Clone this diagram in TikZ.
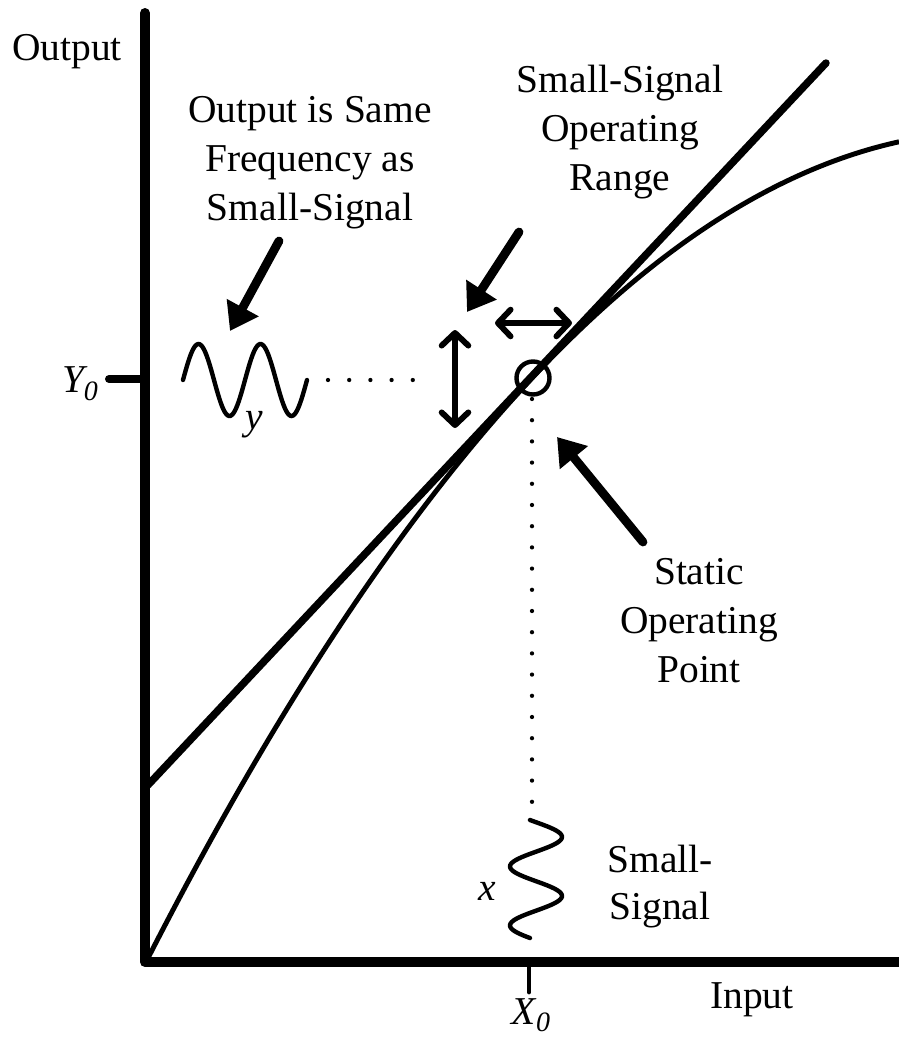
\documentclass[tikz,border=0pt]{standalone}
\usepackage{fontspec}
\setmainfont{Liberation Serif}
\usetikzlibrary{arrows.meta}
\begin{document}
\begin{tikzpicture}[x=0.75pt,y=-0.75pt,
  axis/.style={line width=7.5pt, line cap=round, line join=round},
  tangent/.style={line width=5.6pt, line cap=round},
  curve/.style={line width=3.7pt},
  wave/.style={line width=3.3pt, line cap=round},
  dots/.style={line width=3.2pt, line cap=round, dash pattern=on 0pt off 15.9pt},
  pointer/.style={line width=6.6pt, line cap=round, -{Triangle[length=20pt,width=26pt]}},
  rangearrow/.style={line width=4.4pt, line cap=round, {Straight Barb[length=9.5pt,width=20pt,round]}-{Straight Barb[length=9.5pt,width=20pt,round]}},
  lbl/.style={font=\fontsize{29.6}{36.75}\selectfont, align=center, inner sep=0pt, anchor=base},
  opcircle/.style={draw, circle, line width=3.3pt, minimum size=24.75pt, inner sep=0pt},
]
\useasboundingbox (0,0) rectangle (899,1040);

% axes
\coordinate (top) at (145,13);
\coordinate (orig) at (145,962);
\coordinate (right) at (899,962);
\draw[axis] (top) -- (orig) -- (right);

% ticks
\coordinate (ytick) at (109,379);
\coordinate (ytickb) at (145,379);
\draw[line width=6pt, line cap=round] (ytick) -- (ytickb);
\coordinate (xtick) at (529,962);
\coordinate (xtickb) at (529,992);
\draw[line width=3.6pt, line cap=round] (xtick) -- (xtickb);

% tangent line
\coordinate (tanA) at (148,785);
\coordinate (tanB) at (826,63);
\draw[tangent] (tanA) -- (tanB);

% transfer curve
\draw[curve] plot[domain=148:899, samples=120] (\x, {377 - 1.065*(\x-533) + 11.54*((\x-533)/100)^2});

% operating point
\node[opcircle] (op) at (533,378) {};

% dotted lines
\coordinate (hdA) at (328,380);
\coordinate (hdB) at (414,380);
\draw[dots] (hdA) -- (hdB);
\coordinate (vdA) at (532,399);
\coordinate (vdB) at (532,804);
\draw[dots] (vdA) -- (vdB);

% waves
\draw[wave] plot[domain=0:720, samples=90, variable=\t] ({183 + 0.172222*\t}, {380 - 36*sin(\t)});
\draw[wave] plot[domain=-13.4:706.6, samples=90, variable=\t] ({536 + 26*sin(\t)}, {820 + 0.163889*(\t+13.4)});

% range arrows
\coordinate (hrA) at (495,323);
\coordinate (hrB) at (572,323);
\draw[rangearrow] (hrA) -- (hrB);
\coordinate (vrA) at (455,330);
\coordinate (vrB) at (455,428);
\draw[rangearrow] (vrA) -- (vrB);

% pointer arrows
\coordinate (p1a) at (279,241);
\coordinate (p1b) at (230,331);
\draw[pointer] (p1a) -- (p1b);
\coordinate (p2a) at (519,232);
\coordinate (p2b) at (467,312);
\draw[pointer] (p2a) -- (p2b);
\coordinate (p3a) at (643,542);
\coordinate (p3b) at (557,437);
\draw[pointer] (p3a) -- (p3b);

% labels
\node[lbl] (outlbl) at (67,60) {Output};
\node[lbl] (inlbl) at (752,1008) {Input};
\node[lbl] (y0) at (80,392) {\itshape Y\raisebox{-0.22em}{\fontsize{21}{21}\selectfont 0}};
\node[lbl] (x0) at (531,1024) {\itshape X\raisebox{-0.2em}{\fontsize{21}{21}\selectfont 0}};
\node[lbl] (same) at (310,220) {Output is Same\\Frequency as\\Small-Signal};
\node[lbl] (rangelbl) at (620,190) {Small-Signal\\Operating\\Range};
\node[lbl] (static) at (699,682) {Static\\Operating\\Point};
\node[lbl, font=\fontsize{29.6}{35.25}\selectfont] (ss) at (660,919) {Small-\\Signal};
\node[lbl] (xl) at (487,900) {\itshape x};
\node[lbl] (yl) at (254,429) {\itshape y};
\end{tikzpicture}
\end{document}
